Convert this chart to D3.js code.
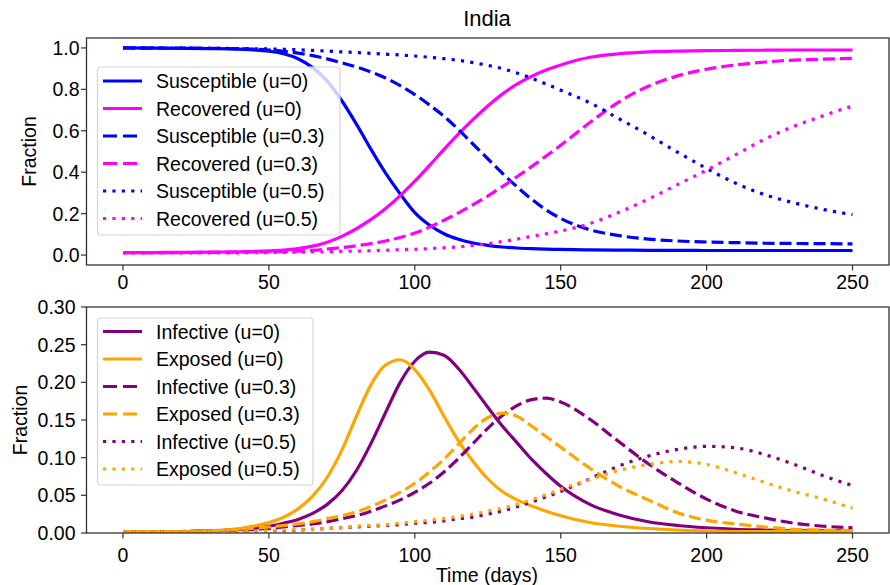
<!DOCTYPE html>
<html>
<head>
<meta charset="utf-8">
<script src="https://cdn.jsdelivr.net/npm/d3@7"></script>
<style>
  body { margin: 0; background: #fff; }
  text { font-family: "Liberation Sans", Arial, sans-serif; fill: #000; }
</style>
</head>
<body>
<div id="chart"></div>
<script>
(function(){
  // time axis (days) shared by every series
  const days = [0,10,20,30,40,50,55,60,65,70,75,80,85,90,95,100,105,110,115,120,125,130,135,140,145,150,160,170,180,190,200,210,220,230,240,250];

  // top panel: susceptible / recovered
  const susceptibleU0 = [1.0,0.999,0.998,0.997,0.994,0.984,0.972,0.948,0.905,0.84,0.745,0.632,0.51,0.395,0.295,0.205,0.145,0.103,0.076,0.058,0.047,0.039,0.034,0.031,0.029,0.027,0.025,0.024,0.023,0.023,0.022,0.022,0.022,0.022,0.022,0.022];
  const recoveredU0 = [0.012,0.012,0.013,0.014,0.016,0.02,0.024,0.031,0.043,0.062,0.09,0.127,0.172,0.225,0.287,0.357,0.432,0.51,0.585,0.655,0.72,0.777,0.825,0.863,0.894,0.918,0.955,0.972,0.981,0.985,0.987,0.988,0.989,0.99,0.99,0.99];
  const susceptibleU03 = [1.0,0.999,0.999,0.998,0.996,0.99,0.984,0.975,0.963,0.947,0.928,0.908,0.884,0.855,0.818,0.775,0.725,0.67,0.605,0.535,0.465,0.395,0.33,0.27,0.218,0.177,0.122,0.094,0.077,0.068,0.063,0.06,0.057,0.056,0.055,0.054];
  const recoveredU03 = [0.012,0.012,0.012,0.013,0.014,0.016,0.017,0.019,0.023,0.029,0.036,0.045,0.055,0.068,0.085,0.106,0.135,0.168,0.204,0.243,0.285,0.33,0.378,0.427,0.478,0.53,0.64,0.74,0.815,0.865,0.897,0.918,0.932,0.941,0.946,0.95];
  const susceptibleU05 = [1.0,1.0,0.999,0.998,0.997,0.995,0.993,0.991,0.988,0.985,0.981,0.978,0.974,0.97,0.966,0.961,0.955,0.948,0.94,0.929,0.916,0.9,0.879,0.854,0.826,0.796,0.735,0.658,0.58,0.497,0.418,0.347,0.291,0.252,0.22,0.195];
  const recoveredU05 = [0.01,0.01,0.01,0.011,0.011,0.012,0.013,0.014,0.015,0.016,0.018,0.019,0.021,0.023,0.026,0.028,0.031,0.035,0.04,0.047,0.055,0.065,0.077,0.09,0.103,0.116,0.152,0.207,0.27,0.34,0.41,0.485,0.56,0.622,0.673,0.72];

  // bottom panel: infective / exposed
  const infectiveU0 = [0.002,0.002,0.002,0.003,0.005,0.009,0.013,0.018,0.026,0.038,0.056,0.083,0.119,0.16,0.2,0.228,0.24,0.236,0.218,0.193,0.167,0.142,0.12,0.098,0.079,0.062,0.038,0.024,0.015,0.01,0.007,0.005,0.004,0.003,0.003,0.003];
  const exposedU0 = [0.002,0.002,0.002,0.003,0.006,0.014,0.021,0.032,0.049,0.074,0.11,0.155,0.197,0.223,0.23,0.217,0.19,0.155,0.122,0.095,0.072,0.055,0.044,0.036,0.029,0.023,0.014,0.009,0.006,0.004,0.003,0.002,0.002,0.002,0.002,0.002];
  const infectiveU03 = [0.002,0.002,0.002,0.003,0.004,0.006,0.008,0.01,0.012,0.015,0.019,0.023,0.029,0.036,0.044,0.054,0.066,0.081,0.099,0.119,0.139,0.156,0.169,0.177,0.179,0.174,0.151,0.121,0.092,0.067,0.045,0.029,0.02,0.013,0.009,0.007];
  const exposedU03 = [0.002,0.002,0.002,0.003,0.005,0.008,0.01,0.012,0.015,0.019,0.023,0.028,0.035,0.044,0.054,0.066,0.081,0.098,0.118,0.138,0.153,0.159,0.155,0.142,0.128,0.114,0.086,0.062,0.044,0.027,0.017,0.012,0.008,0.005,0.004,0.003];
  const infectiveU05 = [0.001,0.001,0.002,0.002,0.002,0.003,0.003,0.004,0.005,0.006,0.007,0.008,0.009,0.01,0.011,0.013,0.014,0.016,0.019,0.021,0.025,0.029,0.035,0.041,0.048,0.055,0.072,0.089,0.102,0.111,0.115,0.113,0.104,0.091,0.076,0.063];
  const exposedU05 = [0.001,0.001,0.002,0.002,0.002,0.003,0.004,0.004,0.005,0.006,0.007,0.009,0.01,0.011,0.013,0.015,0.017,0.019,0.022,0.025,0.029,0.033,0.038,0.044,0.051,0.058,0.071,0.083,0.091,0.095,0.091,0.08,0.067,0.055,0.045,0.033];

  const xTicks = [0, 50, 100, 150, 200, 250];
  const topTicks = [0.0, 0.2, 0.4, 0.6, 0.8, 1.0];
  const bottomTicks = [0.00, 0.05, 0.10, 0.15, 0.20, 0.25, 0.30];

  const width = 890, height = 585;
  const lw = 3.2;
  const fs = "19.5px";
  const dashes = { solid: null, dashed: "12,5", dotted: "3.2,6.2" };

  const topSeries = [
    {label: "Susceptible (u=0)", values: susceptibleU0, color: "#0000ff", style: "solid"},
    {label: "Recovered (u=0)", values: recoveredU0, color: "#ff00ff", style: "solid"},
    {label: "Susceptible (u=0.3)", values: susceptibleU03, color: "#0000ff", style: "dashed"},
    {label: "Recovered (u=0.3)", values: recoveredU03, color: "#ff00ff", style: "dashed"},
    {label: "Susceptible (u=0.5)", values: susceptibleU05, color: "#0000ff", style: "dotted"},
    {label: "Recovered (u=0.5)", values: recoveredU05, color: "#ff00ff", style: "dotted"}
  ];
  const bottomSeries = [
    {label: "Infective (u=0)", values: infectiveU0, color: "#800080", style: "solid"},
    {label: "Exposed (u=0)", values: exposedU0, color: "#ffa500", style: "solid"},
    {label: "Infective (u=0.3)", values: infectiveU03, color: "#800080", style: "dashed"},
    {label: "Exposed (u=0.3)", values: exposedU03, color: "#ffa500", style: "dashed"},
    {label: "Infective (u=0.5)", values: infectiveU05, color: "#800080", style: "dotted"},
    {label: "Exposed (u=0.5)", values: exposedU05, color: "#ffa500", style: "dotted"}
  ];

  const svg = d3.select("#chart").append("svg")
      .attr("width", width)
      .attr("height", height);

  const x = d3.scaleLinear().domain([-12.5, 262.5]).range([86.5, 889]);

  function panel(cfg) {
    const y = d3.scaleLinear().domain(cfg.yDomain).range([cfg.bottom, cfg.top]);
    const g = svg.append("g");

    const clipId = "clip" + cfg.id;
    g.append("clipPath").attr("id", clipId)
      .append("rect")
      .attr("x", x.range()[0]).attr("y", cfg.top)
      .attr("width", x.range()[1] - x.range()[0]).attr("height", cfg.bottom - cfg.top);

    const line = d3.line()
        .x((d, i) => x(days[i]))
        .y(d => y(d))
        .curve(d3.curveMonotoneX);

    g.append("g").attr("clip-path", `url(#${clipId})`)
      .selectAll("path")
      .data(cfg.series)
      .enter().append("path")
      .attr("d", d => line(d.values))
      .attr("fill", "none")
      .attr("stroke", d => d.color)
      .attr("stroke-width", lw)
      .attr("stroke-dasharray", d => dashes[d.style]);

    // frame
    g.append("rect")
      .attr("x", x.range()[0]).attr("y", cfg.top)
      .attr("width", x.range()[1] - x.range()[0]).attr("height", cfg.bottom - cfg.top)
      .attr("fill", "none").attr("stroke", "#333").attr("stroke-width", 1.3);

    // x axis
    const xa = g.append("g");
    xa.selectAll("line").data(xTicks).enter().append("line")
      .attr("x1", d => x(d)).attr("x2", d => x(d))
      .attr("y1", cfg.bottom).attr("y2", cfg.bottom + 5.5)
      .attr("stroke", "#333").attr("stroke-width", 1.2);
    xa.selectAll("text").data(xTicks).enter().append("text")
      .attr("x", d => x(d)).attr("y", cfg.xLabelY)
      .attr("text-anchor", "middle")
      .style("font-size", fs)
      .text(d => d);

    // y axis
    const ya = g.append("g");
    ya.selectAll("line").data(cfg.yTicks).enter().append("line")
      .attr("x1", x.range()[0] - 5.5).attr("x2", x.range()[0])
      .attr("y1", d => y(d)).attr("y2", d => y(d))
      .attr("stroke", "#333").attr("stroke-width", 1.2);
    ya.selectAll("text").data(cfg.yTicks).enter().append("text")
      .attr("x", cfg.yLabelX).attr("y", d => y(d))
      .attr("dy", "0.36em")
      .attr("text-anchor", "end")
      .style("font-size", fs)
      .text(d => d3.format(cfg.fmt)(d));

    g.append("text")
      .attr("transform", `translate(${cfg.titleX},${(cfg.top + cfg.bottom) / 2}) rotate(-90)`)
      .attr("text-anchor", "middle")
      .attr("dy", "0.36em")
      .style("font-size", fs)
      .text("Fraction");

    // legend
    const lg = g.append("g");
    lg.append("rect")
      .attr("x", 97.5).attr("y", cfg.legend.top)
      .attr("width", cfg.legend.width).attr("height", cfg.legend.height)
      .attr("rx", 3.5)
      .attr("fill", "#fff").attr("fill-opacity", 0.8)
      .attr("stroke", "#d5d5d5").attr("stroke-width", 1.2);
    const rows = lg.selectAll(".row").data(cfg.series).enter().append("g")
      .attr("transform", (d, i) => `translate(0,${cfg.legend.first + i * cfg.legend.step})`);
    rows.append("line")
      .attr("x1", 103).attr("x2", 142).attr("y1", 0).attr("y2", 0)
      .attr("stroke", d => d.color)
      .attr("stroke-width", lw)
      .attr("stroke-dasharray", d => d.style === "dashed" ? "14,6" : dashes[d.style]);
    rows.append("text")
      .attr("x", 156).attr("y", 0).attr("dy", "0.36em")
      .style("font-size", fs)
      .text(d => d.label);
  }

  panel({
    id: "top", top: 38, bottom: 265, yDomain: [-0.048, 1.048],
    yTicks: topTicks, fmt: ".1f", series: topSeries,
    xLabelY: 288.5, yLabelX: 79.5, titleX: 29,
    legend: {top: 67, width: 242.5, height: 168, first: 81, step: 27.5}
  });

  panel({
    id: "bottom", top: 307, bottom: 533, yDomain: [0, 0.3],
    yTicks: bottomTicks, fmt: ".2f", series: bottomSeries,
    xLabelY: 562, yLabelX: 75.5, titleX: 20,
    legend: {top: 318, width: 215.5, height: 167, first: 331.5, step: 27.5}
  });

  svg.append("text")
    .attr("x", 487).attr("y", 26)
    .attr("text-anchor", "middle")
    .style("font-size", "22px")
    .text("India");

  svg.append("text")
    .attr("x", 487).attr("y", 582)
    .attr("text-anchor", "middle")
    .style("font-size", fs)
    .text("Time (days)");
})();
</script>
</body>
</html>
